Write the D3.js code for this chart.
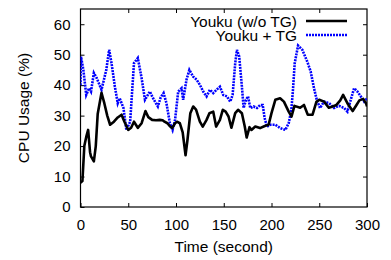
<!DOCTYPE html>
<html>
<head>
<meta charset="utf-8">
<script src="https://cdn.jsdelivr.net/npm/d3@7"></script>
<style>
  body { margin: 0; background: #fff; }
  text { font-family: "Liberation Sans", Arial, Helvetica, sans-serif; fill: #000; }
</style>
</head>
<body>
<div id="chart"></div>
<script>
// CPU usage over time, Youku with and without TG

const seriesNames = ['Youku (w/o TG)', 'Youku + TG'];
const xTicks = [0, 50, 100, 150, 200, 250, 300];
const yTicks = [0, 10, 20, 30, 40, 50, 60];

const timeNoTG = [0, 2, 4, 6, 8, 10, 11, 14, 16, 18, 22, 25, 28, 31, 35, 39, 43, 46, 50, 53,
  56, 60, 64, 68, 71, 75, 79, 83, 86, 88, 91, 94, 96, 99, 101, 104, 107, 110, 112, 115,
  118, 121, 125, 128, 132, 135, 139, 142, 146, 149, 152, 155, 158, 162, 165, 169, 172, 174, 177, 179,
  183, 188, 193, 197, 200, 204, 209, 213, 218, 221, 224, 230, 234, 238, 243, 247, 250, 255, 260, 264,
  268, 272, 275, 280, 285, 289, 292, 296, 299, 300];
const cpuNoTG = [8, 8.5, 20, 23, 25.3, 18, 16.6, 15, 20, 30.5, 37.5, 34, 30, 27, 28, 29.4, 30.3, 28, 25.3, 26,
  28, 26, 27.5, 31.5, 29.5, 28.6, 28.5, 28.6, 28.5, 28, 27.5, 26.4, 25.9, 27.5, 28, 27.5, 24.5, 17, 22, 30.8,
  33, 32, 28, 26.4, 28.6, 30.8, 31.3, 26.4, 28.6, 31.9, 31.3, 29.7, 26, 30.8, 31.9, 30.8, 26.4, 22.8, 26.2, 25.3,
  26.4, 25.9, 26.6, 27, 30.8, 35.2, 35.7, 34.6, 31.3, 29.7, 33.2, 32.6, 33.5, 30.3, 30.3, 34.5, 35.2, 34.6, 32.6, 33,
  33.5, 35, 36.8, 33.8, 31.5, 33.5, 35, 35.5, 34, 33];

const timeTG = [0, 0.5, 3, 6, 9, 11, 14, 17, 22, 27, 30, 32.5, 36, 39, 41, 45, 48, 52, 56, 60,
  64, 67.5, 72.6, 76, 78, 81, 84, 87, 90, 93.6, 96.4, 99, 102.3, 105.8, 107.5, 111, 114, 118, 121.6, 125,
  128.5, 132, 135.5, 139, 142.5, 146, 149.5, 153.4, 156.8, 159.3, 162, 163.8, 166.2, 169, 170.8, 173.3, 175.4, 177.8, 181.3, 184.8,
  188.3, 190.8, 192.8, 195.3, 198.7, 204, 209.2, 214.5, 218, 220.8, 222.5, 224.3, 227.8, 232.3, 237.5, 241, 244.5, 247.4, 250.8, 255,
  260.3, 265.5, 270.8, 276, 279.5, 283, 286.5, 290, 293.5, 297, 300];
const cpuTG = [40, 49.4, 45, 36.8, 39, 37.9, 44, 42.3, 38.5, 45, 51.6, 47.2, 39.5, 34.1, 35.7, 32.5, 25.3, 28, 47.2, 48.9,
  42.3, 35.2, 37.9, 35.7, 34.6, 33, 36, 37.4, 34.1, 27.5, 25.3, 28.6, 37.9, 39, 35.2, 41.8, 45, 42.8, 41.8, 40.1,
  37.9, 36.3, 38.5, 37.4, 38.5, 39.5, 36.8, 36.3, 34.6, 36.8, 47.2, 51.6, 49.4, 39.5, 32.5, 35.2, 36.3, 32.5, 33, 32.5,
  33.5, 33.5, 29.2, 26.4, 27, 27, 25.9, 25.3, 27.5, 31.9, 38.5, 47.2, 53, 51.6, 47.7, 44.5, 39, 35.2, 32.5, 34.6,
  34.1, 32.5, 33.2, 32.5, 31.3, 35.2, 39, 37.9, 36.3, 34.6, 35.7];

const width = 391, height = 260;
const margin = { top: 9, right: 24, bottom: 53, left: 80.5 };
const innerWidth = width - margin.left - margin.right;
const innerHeight = height - margin.top - margin.bottom;

const svg = d3.select('#chart')
  .append('svg')
  .attr('width', width)
  .attr('height', height);

const g = svg.append('g')
  .attr('transform', `translate(${margin.left}, ${margin.top})`);

const xScale = d3.scaleLinear().domain([0, 300]).range([0, innerWidth]);
const yScale = d3.scaleLinear().domain([0, 65]).range([innerHeight, 0]);

// Clip lines to the plot box
svg.append('defs').append('clipPath')
  .attr('id', 'plot-clip')
  .append('rect')
  .attr('width', innerWidth)
  .attr('height', innerHeight);

// Axes with inward ticks (mirrored top and right)
const tickLen = 4;
const tickFont = '15px';

g.append('g')
  .attr('transform', `translate(0, ${innerHeight})`)
  .call(d3.axisBottom(xScale).tickValues(xTicks).tickSizeInner(-tickLen).tickSizeOuter(0).tickPadding(12))
  .call(a => a.select('.domain').remove())
  .call(a => a.selectAll('text').style('font-size', tickFont).attr('dy', '0.71em'));

g.append('g')
  .call(d3.axisTop(xScale).tickValues(xTicks.slice(1, -1)).tickSizeInner(-tickLen).tickSizeOuter(0).tickFormat(''))
  .call(a => a.select('.domain').remove());

g.append('g')
  .call(d3.axisLeft(yScale).tickValues(yTicks).tickSizeInner(-tickLen).tickSizeOuter(0).tickPadding(10))
  .call(a => a.select('.domain').remove())
  .call(a => a.selectAll('text').style('font-size', tickFont));

g.append('g')
  .attr('transform', `translate(${innerWidth}, 0)`)
  .call(d3.axisRight(yScale).tickValues(yTicks.slice(1)).tickSizeInner(-tickLen).tickSizeOuter(0).tickFormat(''))
  .call(a => a.select('.domain').remove());

g.selectAll('.tick line').attr('stroke', '#000');

// Frame
g.append('rect')
  .attr('width', innerWidth)
  .attr('height', innerHeight)
  .attr('fill', 'none')
  .attr('stroke', '#000')
  .attr('stroke-width', 1.2);

// Lines
const line = d3.line()
  .x(d => xScale(d[0]))
  .y(d => yScale(d[1]));

const lines = g.append('g').attr('clip-path', 'url(#plot-clip)');

lines.append('path')
  .datum(timeTG.map((t, i) => [t, cpuTG[i]]))
  .attr('d', line)
  .attr('fill', 'none')
  .attr('stroke', '#0000ff')
  .attr('stroke-width', 2.6)
  .attr('stroke-dasharray', '2,1');

lines.append('path')
  .datum(timeNoTG.map((t, i) => [t, cpuNoTG[i]]))
  .attr('d', line)
  .attr('fill', 'none')
  .attr('stroke', '#000')
  .attr('stroke-width', 2.6)
  .attr('stroke-linejoin', 'round');

// Legend
const legendStyles = [
  { color: '#000', dash: null },
  { color: '#0000ff', dash: '2,1' }
];
const legend = svg.append('g');
seriesNames.forEach((name, i) => {
  const y = 21 + i * 14;
  legend.append('text')
    .attr('x', 297)
    .attr('y', y + 5.5)
    .attr('text-anchor', 'end')
    .style('font-size', '15.5px')
    .text(name);
  legend.append('line')
    .attr('x1', 306).attr('x2', 347)
    .attr('y1', y).attr('y2', y)
    .attr('stroke', legendStyles[i].color)
    .attr('stroke-width', 2.6)
    .attr('stroke-dasharray', legendStyles[i].dash);
});

// Axis labels
svg.append('text')
  .attr('x', margin.left + innerWidth / 2)
  .attr('y', 252)
  .attr('text-anchor', 'middle')
  .style('font-size', '15.5px')
  .text('Time (second)');

svg.append('text')
  .attr('transform', `translate(29, ${margin.top + innerHeight / 2}) rotate(-90)`)
  .attr('text-anchor', 'middle')
  .style('font-size', '15.5px')
  .text('CPU Usage (%)');
</script>
</body>
</html>
